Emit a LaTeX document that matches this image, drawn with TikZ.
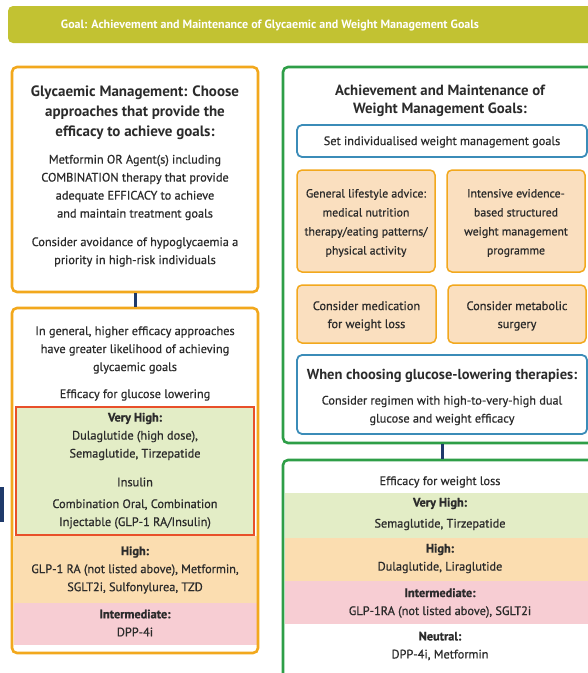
\documentclass[tikz,border=0pt]{standalone}
\usepackage{fontspec}
\setmainfont{PT Sans}
\newfontfamily\medfont{PT Sans}[FakeBold=0.7]
\definecolor{banner}{HTML}{C2C232}
\definecolor{orangeB}{HTML}{F2A81D}
\definecolor{greenB}{HTML}{2E9E47}
\definecolor{blueB}{HTML}{3B8CB8}
\definecolor{navy}{HTML}{1F3A6B}
\definecolor{redB}{HTML}{E8502A}
\definecolor{vhigh}{HTML}{E3EDC6}
\definecolor{highO}{HTML}{FBDDB0}
\definecolor{pinkI}{HTML}{F7CDD3}
\definecolor{peach}{HTML}{FADFBF}
\definecolor{ink}{HTML}{2B2B2B}
\begin{document}
\begin{tikzpicture}[x=1pt,y=-1pt,
  frame/.style={draw, line width=2.6pt, rounded corners=5pt, inner sep=0pt},
  subbox/.style={draw, line width=1.8pt, rounded corners=5pt, inner sep=0pt},
  band/.style={inner sep=0pt, outer sep=0pt},
  txt/.style={align=center, text=ink, inner sep=0pt, font=\medfont\fontsize{12.3}{18}\selectfont},
  ttl/.style={align=center, text=ink, inner sep=0pt, font=\bfseries\fontsize{15}{20}\selectfont},
  conn/.style={draw=navy, line width=3pt}]
\useasboundingbox (0,0) rectangle (588,673);
\clip (0,0) rectangle (588,673);
% banner
\node[fill=banner, rounded corners=5pt, inner sep=0pt, minimum width=600pt, minimum height=37pt] (goal) at (308,24.5) {};
\node[text=white, font=\bfseries\fontsize{12}{14}\selectfont, inner sep=0pt] (goaltxt) at (270,25) {Goal: Achievement and Maintenance of Glycaemic and Weight Management Goals};
% navy stub
\fill[navy] (0,487) rectangle (4,522);
% ---------- left column
\node[frame, draw=orangeB, minimum width=246pt, minimum height=225pt] (lt) at (135,179.5) {};
\node[ttl] (ltT) at (135,113) {Glycaemic Management: Choose\\approaches that provide the\\efficacy to achieve goals:};
\node[txt] (ltB1) at (135,187.5) {Metformin OR Agent(s) including\\COMBINATION therapy that provide\\adequate EFFICACY to achieve\\and maintain treatment goals};
\node[txt] (ltB2) at (135,252) {Consider avoidance of hypoglycaemia a\\priority in high-risk individuals};
% left bottom
\node[band, fill=highO, minimum width=243pt, minimum height=67pt] (lhigh) at (135,569.5) {};
\node[band, fill=pinkI, minimum width=243pt, minimum height=42pt] (lint) at (135,624) {};
\node[draw=redB, line width=2.5pt, fill=vhigh, inner sep=0pt, minimum width=238pt, minimum height=128pt] (lvh) at (135,471) {};
\node[frame, draw=orangeB, minimum width=246pt, minimum height=345pt] (lb) at (135,480.5) {};
\draw[conn] (lt.south) -- (lb.north);
\node[txt] (lbI) at (135,350) {In general, higher efficacy approaches\\have greater likelihood of achieving\\glycaemic goals};
\node[txt] (lbE) at (135,395) {Efficacy for glucose lowering};
\node[txt] (lbVH) at (135,436.5) {\textbf{Very High:}\\Dulaglutide (high dose),\\Semaglutide, Tirzepatide};
\node[txt] (lbIns) at (135,482) {Insulin};
\node[txt] (lbComb) at (135,514) {Combination Oral, Combination\\Injectable (GLP-1 RA/Insulin)};
\node[txt] (lbH) at (135,570) {\textbf{High:}\\GLP-1 RA (not listed above), Metformin,\\SGLT2i, Sulfonylurea, TZD};
\node[txt] (lbIm) at (135,623) {\textbf{Intermediate:}\\DPP-4i};
% ---------- right column
\node[frame, draw=greenB, minimum width=318pt, minimum height=376pt] (rt) at (442,255) {};
\node[align=center, text=ink, inner sep=0pt, font=\bfseries\fontsize{14.8}{18.5}\selectfont] (rtT) at (440,101) {Achievement and Maintenance of\\Weight Management Goals:};
\node[subbox, draw=blueB, minimum width=290pt, minimum height=32pt] (rset) at (442,141) {};
\node[txt] (rsetT) at (442,142) {Set individualised weight management goals};
\node[subbox, draw=orangeB, fill=peach, line width=1.5pt, minimum width=138pt, minimum height=102pt] (rgen) at (366,221) {};
\node[subbox, draw=orangeB, fill=peach, line width=1.5pt, minimum width=138pt, minimum height=102pt] (rint) at (516,221) {};
\node[subbox, draw=orangeB, fill=peach, line width=1.5pt, minimum width=139pt, minimum height=58pt] (rmed) at (366.5,314) {};
\node[subbox, draw=orangeB, fill=peach, line width=1.5pt, minimum width=138pt, minimum height=58pt] (rsur) at (517,314) {};
\node[txt, font=\medfont\fontsize{11.8}{19}\selectfont] (rgenT) at (366,223) {General lifestyle advice:\\medical nutrition\\therapy/eating patterns/\\physical activity};
\node[txt, font=\medfont\fontsize{11.8}{19}\selectfont] (rintT) at (516,223) {Intensive evidence-\\based structured\\weight management\\programme};
\node[txt] (rmedT) at (366.5,316) {Consider medication\\for weight loss};
\node[txt] (rsurT) at (517,316) {Consider metabolic\\surgery};
\node[subbox, draw=blueB, minimum width=290pt, minimum height=79pt] (rchoose) at (442,394.5) {};
\node[align=center, text=ink, inner sep=0pt, font=\bfseries\fontsize{14.5}{18}\selectfont] (rchT) at (442,376) {When choosing glucose-lowering therapies:};
\node[txt] (rchB) at (442,410.5) {Consider regimen with high-to-very-high dual\\glucose and weight efficacy};
% right bottom
\node[band, fill=vhigh, minimum width=316pt, minimum height=45pt] (rvh) at (443,515.5) {};
\node[band, fill=highO, minimum width=316pt, minimum height=43pt] (rhigh) at (443,559.5) {};
\node[band, fill=pinkI, minimum width=316pt, minimum height=43pt] (rimd) at (443,602.5) {};
\node[frame, draw=greenB, minimum width=318pt, minimum height=240pt] (rb) at (442,580) {};
\draw[conn] (rt.south) -- (rb.north);
\node[txt] (rbE) at (440,482) {Efficacy for weight loss};
\node[txt, font=\medfont\fontsize{12.3}{21}\selectfont] (rbVH) at (440,514) {\textbf{Very High:}\\Semaglutide, Tirzepatide};
\node[txt] (rbH) at (440,558.5) {\textbf{High:}\\Dulaglutide, Liraglutide};
\node[txt] (rbI) at (440,603) {\textbf{Intermediate:}\\GLP-1RA (not listed above), SGLT2i};
\node[txt] (rbN) at (440,646) {\textbf{Neutral:}\\DPP-4i, Metformin};
\end{tikzpicture}
\end{document}
